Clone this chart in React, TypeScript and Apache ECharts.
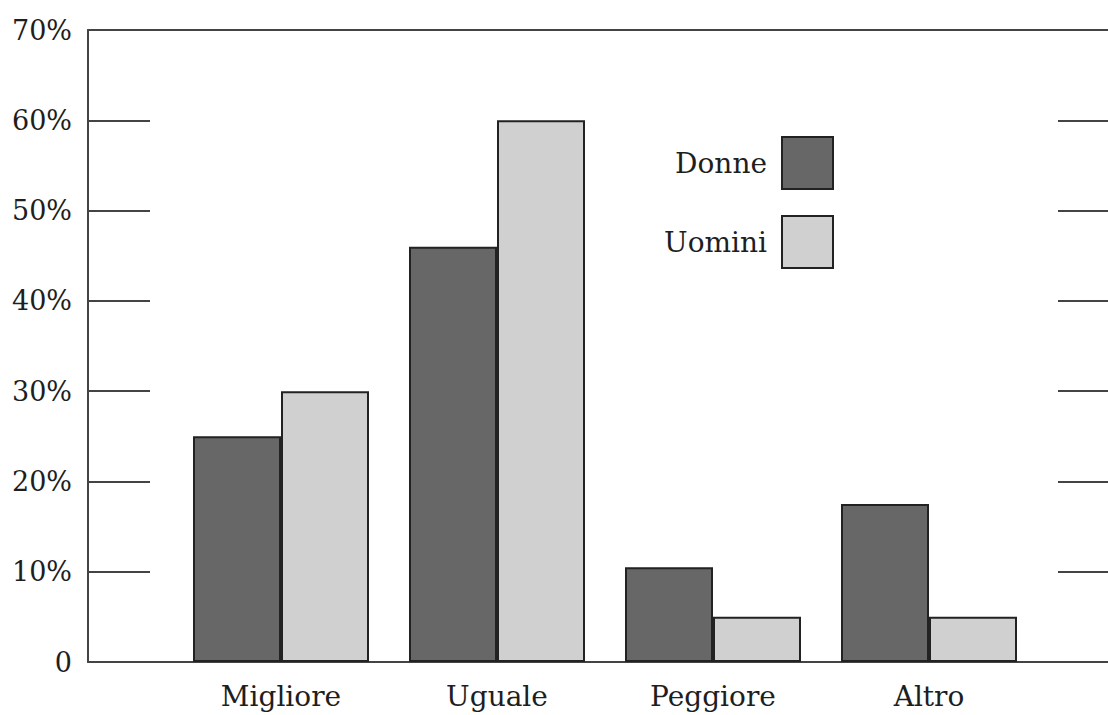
import React, { useEffect, useRef } from "react";
import * as echarts from "echarts";

const categories = ["Migliore", "Uguale", "Peggiore", "Altro"];
const donne = [25, 46, 10.5, 17.5];
const uomini = [30, 60, 5, 5];
const yTicks = [0, 10, 20, 30, 40, 50, 60, 70];

const FONT = "'DejaVu Serif', 'Liberation Serif', serif";
const INK = "#1e1e1e";

export default function App() {
  const ref = useRef<HTMLDivElement>(null);
  useEffect(() => {
    if (!ref.current) return;
    const chart = echarts.init(ref.current, undefined, { renderer: "svg" });
    const lineStyle = { color: "#444", width: 2 };
    const yMin = yTicks[0];
    const yMax = yTicks[yTicks.length - 1];
    chart.setOption({
      animation: false,
      backgroundColor: "#fff",
      textStyle: { fontFamily: FONT, color: INK },
      grid: [
        { left: 88, right: 0, top: 30, bottom: 53 },
        { left: 173, width: 864, top: 30, bottom: 53 },
        { left: 1058, right: 0, top: 30, bottom: 53 },
      ],
      xAxis: [
        {
          gridIndex: 0, type: "value", min: 0, max: 1, position: "bottom",
          axisLine: { show: true, lineStyle }, axisTick: { show: false },
          axisLabel: { show: false }, splitLine: { show: false },
        },
        {
          gridIndex: 0, type: "value", min: 0, max: 1, position: "top",
          axisLine: { show: true, lineStyle }, axisTick: { show: false },
          axisLabel: { show: false }, splitLine: { show: false },
        },
        {
          gridIndex: 1, type: "category", data: categories,
          axisLine: { show: false }, axisTick: { show: false },
          axisLabel: { fontFamily: FONT, fontSize: 28, color: INK, margin: 20 },
        },
        {
          gridIndex: 2, type: "value", min: 0, max: 1, show: false,
        },
      ],
      yAxis: [
        {
          gridIndex: 0, type: "value", min: yMin, max: yMax, interval: 10,
          axisLine: { show: true, lineStyle },
          axisTick: { show: true, inside: true, length: 62, lineStyle },
          axisLabel: {
            fontFamily: FONT, fontSize: 27, color: INK, margin: 16,
            formatter: (v: number) => (v === 0 ? "0" : v + "%"),
          },
          splitLine: { show: false },
        },
        {
          gridIndex: 1, type: "value", min: yMin, max: yMax, interval: 10, show: false,
        },
        {
          gridIndex: 2, type: "value", position: "left", min: yMin, max: yMax, interval: 10,
          axisLine: { show: false },
          axisTick: { show: true, inside: true, length: 50, lineStyle },
          axisLabel: { show: false }, splitLine: { show: false },
        },
      ],
      legend: {
        orient: "vertical", right: 269, top: 131, align: "right",
        itemWidth: 51, itemHeight: 52, itemGap: 25, icon: "rect",
        textStyle: { fontFamily: FONT, fontSize: 28, color: INK, padding: [0, 10, 0, 0] },
        data: ["Donne", "Uomini"],
      },
      series: [
        {
          name: "Donne", type: "bar", xAxisIndex: 2, yAxisIndex: 1, data: donne,
          barWidth: 88, barGap: "0%",
          itemStyle: { color: "#676767", borderColor: "#222", borderWidth: 2 },
        },
        {
          name: "Uomini", type: "bar", xAxisIndex: 2, yAxisIndex: 1, data: uomini,
          barWidth: 88, barGap: "0%",
          itemStyle: { color: "#d0d0d0", borderColor: "#222", borderWidth: 2 },
        },
      ],
    });
    return () => chart.dispose();
  }, []);
  return (
    <div
      ref={ref}
      style={{ position: "fixed", left: 0, top: 0, width: 1108, height: 715, background: "#fff" }}
    />
  );
}
